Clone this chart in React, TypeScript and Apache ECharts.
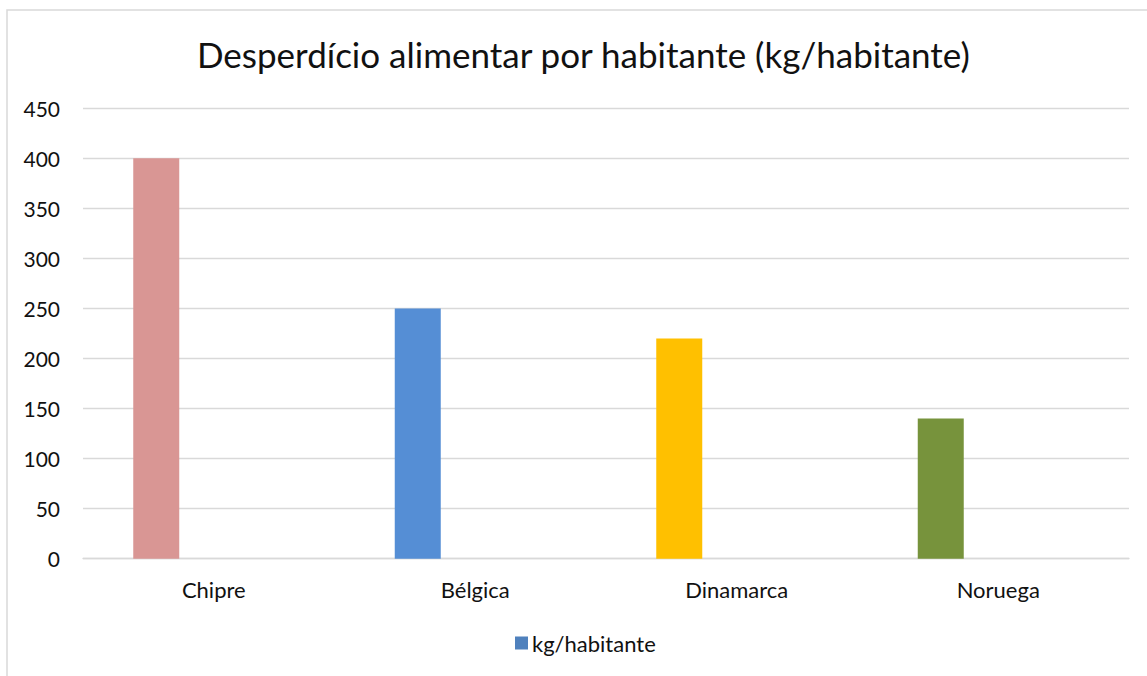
import React, { useEffect, useRef } from "react";
import * as echarts from "echarts";

const TITLE = "Desperdício alimentar por habitante (kg/habitante)";
const CATEGORIES = ["Chipre", "Bélgica", "Dinamarca", "Noruega"];
const VALUES = [400, 250, 220, 140];
const BAR_COLORS = ["#D99694", "#558ED5", "#FFC000", "#77933C"];
const SERIES_NAME = "kg/habitante";
const EMPTY_SERIES = [null, null, null, null];
const Y_MIN = 0;
const Y_MAX = 450;
const Y_STEP = 50;

const FONT = "Lato";

export default function App() {
  const ref = useRef<HTMLDivElement>(null);
  useEffect(() => {
    if (!ref.current) return;
    const chart = echarts.init(ref.current, null, { renderer: "svg" });
    chart.setOption({
      animation: false,
      backgroundColor: "#ffffff",
      textStyle: { fontFamily: FONT },
      graphic: [
        {
          type: "rect",
          shape: { x: 7, y: 10, width: 1160, height: 700 },
          style: { fill: "none", stroke: "#D9D9D9", lineWidth: 1.5 },
          silent: true,
          z: -1,
        },
      ],
      title: {
        text: TITLE,
        left: 197,
        top: 33,
        padding: 0,
        textStyle: {
          fontFamily: FONT,
          fontSize: 35,
          fontWeight: "normal",
          color: "#111",
          lineHeight: 42,
        },
      },
      legend: {
        data: [SERIES_NAME],
        left: 515,
        top: 631,
        padding: 0,
        itemWidth: 13,
        itemHeight: 13,
        itemGap: 6,
        icon: "rect",
        textStyle: { fontFamily: FONT, fontSize: 22, color: "#111", lineHeight: 24, padding: [0, 0, 0, -1] },
      },
      grid: { left: 83, right: 18, top: 108.3, bottom: 117.3, containLabel: false },
      xAxis: {
        type: "category",
        data: CATEGORIES,
        axisLine: { show: true, lineStyle: { color: "#D9D9D9", width: 1.3 } },
        axisTick: { show: false },
        axisLabel: { fontFamily: FONT, fontSize: 22, color: "#111", margin: 19, lineHeight: 24 },
      },
      yAxis: {
        type: "value",
        min: Y_MIN,
        max: Y_MAX,
        interval: Y_STEP,
        axisLine: { show: false },
        axisTick: { show: false },
        splitLine: { lineStyle: { color: "#D9D9D9", width: 1.3 } },
        axisLabel: { fontFamily: FONT, fontSize: 21, color: "#111", margin: 23 },
      },
      series: [
        {
          name: SERIES_NAME,
          type: "bar",
          barWidth: 46,
          barGap: "150%",
          itemStyle: { color: "#4F81BD" },
          data: VALUES.map((v, i) => ({ value: v, itemStyle: { color: BAR_COLORS[i] } })),
        },
        {
          name: "Série2",
          type: "bar",
          barWidth: 46,
          barGap: "150%",
          itemStyle: { color: "#C0504D" },
          data: EMPTY_SERIES,
        },
      ],
    });
    return () => chart.dispose();
  }, []);
  return (
    <div
      ref={ref}
      style={{ position: "fixed", left: 0, top: 0, width: 1147, height: 676 }}
    />
  );
}
